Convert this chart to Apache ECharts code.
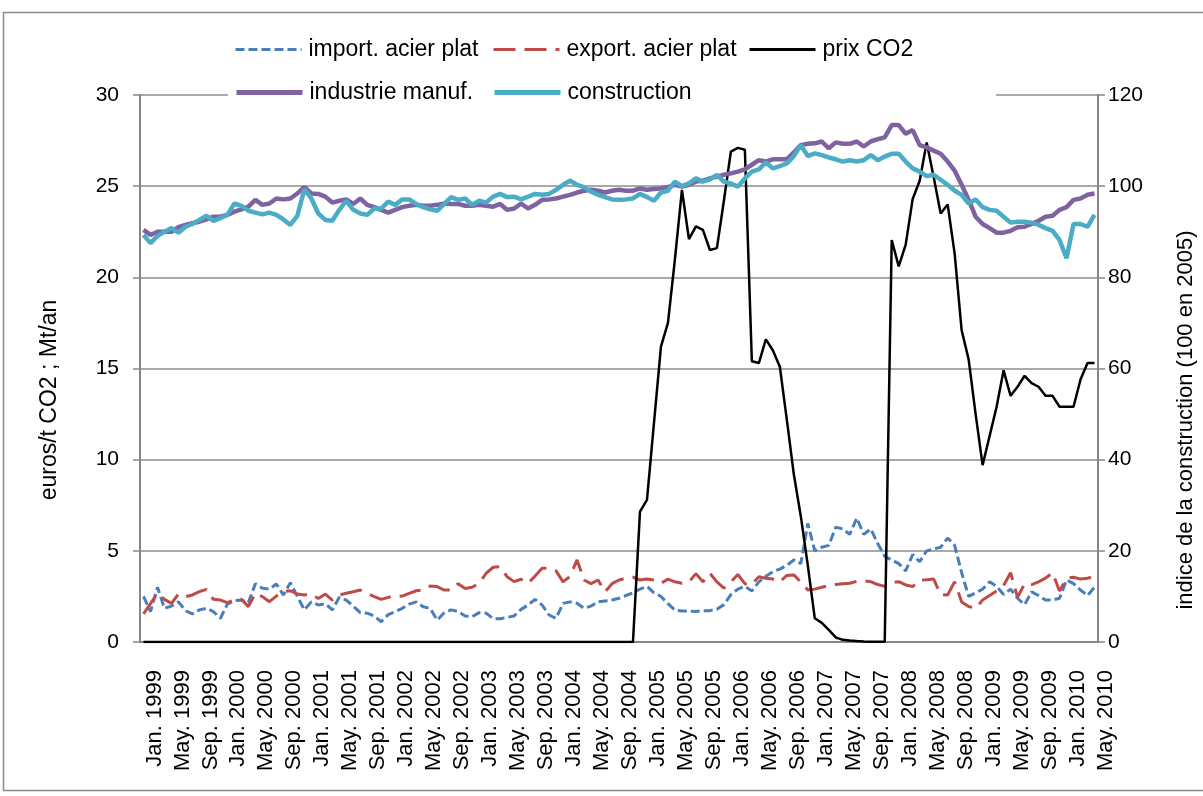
<!DOCTYPE html>
<html>
<head>
<meta charset="utf-8">
<script src="https://cdn.jsdelivr.net/npm/echarts@6/dist/echarts.min.js"></script>
<style>
html, body { margin: 0; padding: 0; background: #fff; }
#chart { width: 1203px; height: 796px; }
</style>
</head>
<body>
<div id="chart"></div>
<script>
var month_names = ['Jan.', 'Feb.', 'Mar.', 'Apr.', 'May.', 'Jun.', 'Jul.', 'Aug.', 'Sep.', 'Oct.', 'Nov.', 'Dec.'];
var years = [1999, 2000, 2001, 2002, 2003, 2004, 2005, 2006, 2007, 2008, 2009, 2010];
var last_month_2010 = 5;

// axe gauche : euros/t CO2 ; Mt/an
var import_acier_plat = [
	2.5, 1.67, 3.0, 1.85, 1.97, 2.2, 1.72, 1.54, 1.76, 1.85, 1.67, 1.3,
	2.08, 2.27, 2.3, 2.16, 3.2, 2.95, 2.9, 3.18, 2.58, 3.25, 2.5, 1.76,
	2.2, 2.03, 2.1, 1.76, 2.45, 2.3, 1.97, 1.61, 1.58, 1.43, 1.11, 1.5,
	1.67, 1.85, 2.08, 2.2, 1.93, 1.85, 1.2, 1.6, 1.76, 1.67, 1.43, 1.39,
	1.61, 1.58, 1.28, 1.28, 1.35, 1.43, 1.79, 2.03, 2.34, 2.03, 1.48, 1.3,
	2.12, 2.2, 2.12, 1.85, 1.97, 2.2, 2.25, 2.3, 2.4, 2.55, 2.7, 2.9,
	3.05, 2.7, 2.5, 2.1, 1.75, 1.7, 1.7, 1.67, 1.72, 1.72, 1.8, 2.05,
	2.6, 2.9, 3.05, 2.8, 3.3, 3.6, 3.85, 4.0, 4.2, 4.5, 4.3, 6.5,
	5.0, 5.2, 5.3, 6.3, 6.2, 5.9, 6.8, 5.9, 6.2, 5.4, 4.7, 4.5,
	4.3, 3.9, 4.8, 4.4, 5.0, 5.1, 5.2, 5.7, 5.3, 3.8, 2.5, 2.7,
	2.9, 3.3, 3.05, 2.6, 2.9, 2.4, 2.05, 2.75, 2.55, 2.3, 2.3, 2.4,
	3.4, 3.2, 2.85, 2.55, 3.0
];
var export_acier_plat = [
	1.54, 2.1, 2.67, 2.34, 2.12, 2.63, 2.49, 2.58, 2.76, 2.89, 2.34, 2.3,
	2.16, 2.3, 2.34, 1.94, 2.67, 2.49, 2.21, 2.52, 2.76, 2.81, 2.63, 2.58,
	2.63, 2.39, 2.63, 2.3, 2.58, 2.67, 2.76, 2.85, 2.67, 2.49, 2.34, 2.45,
	2.49, 2.52, 2.67, 2.81, 2.85, 3.07, 3.04, 2.85, 2.85, 3.2, 2.94, 3.0,
	3.22, 3.77, 4.1, 4.13, 3.58, 3.31, 3.44, 3.22, 3.62, 4.04, 4.04, 3.9,
	3.3, 3.6, 4.5, 3.4, 3.2, 3.4, 2.75, 3.2, 3.4, 3.5, 3.55, 3.4,
	3.45, 3.4, 3.22, 3.45, 3.3, 3.22, 3.3, 3.75, 3.3, 3.77, 3.3, 2.95,
	3.3, 3.7, 3.2, 3.15, 3.58, 3.5, 3.45, 3.3, 3.65, 3.68, 3.3, 2.85,
	2.9, 3.0, 3.1, 3.15, 3.2, 3.22, 3.33, 3.36, 3.31, 3.15, 3.05, 3.25,
	3.31, 3.13, 3.04, 3.4, 3.42, 3.45, 2.6, 2.58, 3.31, 2.2, 1.95, 1.85,
	2.3, 2.55, 2.8, 3.1, 3.8, 2.45, 3.2, 3.15, 3.3, 3.5, 3.8, 2.8,
	3.5, 3.55, 3.45, 3.5, 3.6
];
var prix_co2 = [
	0, 0, 0, 0, 0, 0, 0, 0, 0, 0, 0, 0,
	0, 0, 0, 0, 0, 0, 0, 0, 0, 0, 0, 0,
	0, 0, 0, 0, 0, 0, 0, 0, 0, 0, 0, 0,
	0, 0, 0, 0, 0, 0, 0, 0, 0, 0, 0, 0,
	0, 0, 0, 0, 0, 0, 0, 0, 0, 0, 0, 0,
	0, 0, 0, 0, 0, 0, 0, 0, 0, 0, 0, 7.15,
	7.8, 12.0, 16.2, 17.5, 21.0, 24.8, 22.1, 22.8, 22.6, 21.5, 21.6, 24.2,
	26.9, 27.1, 27.0, 15.4, 15.3, 16.6, 16.0, 15.1, 12.2, 9.2, 6.9, 4.2,
	1.3, 1.05, 0.66, 0.25, 0.12, 0.08, 0.05, 0.03, 0.02, 0.02, 0.02, 22.05,
	20.6, 21.8, 24.3, 25.3, 27.4, 25.5, 23.5, 24.0, 21.3, 17.1, 15.5, 12.5,
	9.7, 11.3, 12.9, 14.9, 13.5, 14.0, 14.6, 14.2, 14.0, 13.5, 13.5, 12.9,
	12.9, 12.9, 14.4, 15.3, 15.3
];
// axe droit : indice (100 en 2005)
var industrie_manuf = [
	90.4, 89.3, 90.0, 90.0, 90.0, 91.0, 91.5, 91.9, 92.2, 92.7, 93.3, 93.3,
	93.7, 94.4, 94.9, 95.5, 97.0, 95.9, 96.2, 97.3, 97.1, 97.3, 98.4, 99.8,
	98.4, 98.3, 97.7, 96.4, 96.8, 97.1, 96.1, 97.3, 95.9, 95.4, 94.8, 94.2,
	94.8, 95.4, 95.7, 95.9, 95.7, 95.7, 95.9, 96.2, 96.1, 96.1, 95.7, 95.7,
	95.9, 95.7, 95.5, 96.1, 94.8, 95.1, 96.2, 95.1, 95.9, 97.0, 97.1, 97.3,
	97.7, 98.1, 98.6, 99.0, 99.2, 99.0, 98.6, 99.0, 99.2, 99.0, 99.0, 99.5,
	99.2, 99.4, 99.5, 99.8, 100.3, 99.9, 100.3, 101.0, 101.2, 101.7, 102.1, 102.5,
	102.8, 103.2, 103.7, 104.7, 105.7, 105.4, 105.9, 105.9, 105.9, 107.4, 109.0, 109.3,
	109.4, 109.8, 108.3, 109.6, 109.3, 109.3, 109.8, 108.7, 109.8, 110.3, 110.7, 113.4,
	113.4, 111.5, 112.3, 109.0, 108.5, 107.8, 107.1, 105.4, 103.4, 100.3, 97.0, 93.3,
	91.7, 90.8, 89.8, 89.8, 90.2, 91.0, 91.1, 91.7, 92.4, 93.3, 93.5, 94.8,
	95.4, 97.0, 97.3, 98.1, 98.4
];
var construction = [
	89.3, 87.5, 89.1, 90.0, 90.8, 89.8, 91.1, 91.7, 92.6, 93.5, 92.4, 93.0,
	93.7, 96.2, 95.7, 94.6, 94.2, 93.8, 94.2, 93.7, 92.7, 91.5, 93.5, 99.3,
	97.3, 94.0, 92.6, 92.4, 94.8, 96.8, 94.8, 94.0, 93.7, 95.1, 95.1, 96.6,
	95.9, 97.1, 97.1, 96.1, 95.4, 94.9, 94.6, 96.1, 97.6, 97.0, 97.3, 95.9,
	96.8, 96.4, 97.7, 98.3, 97.6, 97.7, 97.1, 97.7, 98.3, 98.1, 98.3, 99.2,
	100.3, 101.2, 100.3, 99.8, 98.8, 98.1, 97.6, 97.1, 97.0, 97.1, 97.3, 98.3,
	97.6, 96.8, 98.6, 99.0, 101.0, 100.0, 100.6, 101.7, 101.0, 101.5, 102.5, 101.0,
	100.6, 99.9, 101.7, 103.2, 103.7, 105.2, 103.9, 104.4, 105.0, 106.6, 109.0, 106.6,
	107.2, 106.8, 106.3, 105.9, 105.4, 105.7, 105.4, 105.7, 106.8, 105.7, 106.5, 107.1,
	107.1, 105.4, 103.9, 103.2, 102.2, 102.5, 101.4, 100.3, 99.0, 98.1, 96.2, 97.1,
	95.4, 94.8, 94.6, 93.3, 92.0, 92.2, 92.2, 92.0, 91.5, 90.8, 90.2, 88.2,
	84.2, 91.7, 91.7, 91.1, 93.7
];

var months = [];
for (var y = 0; y < years.length; y++) {
	for (var m = 0; m < 12; m++) {
		if (years[y] == 2010 && m >= last_month_2010) break;
		months.push(month_names[m] + ' ' + years[y]);
	}
}

var font = "'Liberation Sans', Arial, sans-serif";
var grey_axis = '#868686';

function make_legend(name, left, top, width){
	return {
		data: [name], left: left, top: top, padding: 0, z: 100,
		itemWidth: 66, itemHeight: 14, itemGap: 0,
		itemStyle: { opacity: 0 },
		lineStyle: { width: width },
		textStyle: { fontSize: 23, color: '#000', fontFamily: font, padding: [0, 0, 0, 2] }
	};
}

function chart_acier_co2(){
	var acier_co2 = echarts.init(document.getElementById("chart"));
	var option = {
		animation: false,
		textStyle: { fontFamily: font },
		grid: { left: 140, right: 105, top: 95, bottom: 154, containLabel: false },
		graphic: [
			{
				type: 'rect', z: 0,
				shape: { x: 3.5, y: 12.5, width: 1210, height: 778 },
				style: { fill: 'none', stroke: '#8a8a8a', lineWidth: 1.5 }
			},
			{
				type: 'rect', z: 50,
				shape: { x: 228, y: 28, width: 768, height: 78 },
				style: { fill: '#ffffff' }
			},
			{
				type: 'text', z: 60, x: 50, y: 400, rotation: Math.PI / 2,
				style: { text: 'euros/t CO2 ; Mt/an', font: '23px ' + font, fill: '#000', align: 'center', verticalAlign: 'middle' }
			},
			{
				type: 'text', z: 60, x: 1186, y: 420, rotation: Math.PI / 2,
				style: { text: 'indice de la construction (100 en 2005)', font: '22px ' + font, fill: '#000', align: 'center', verticalAlign: 'middle' }
			}
		],
		legend: [
			make_legend('import. acier plat', 234, 38, 3),
			make_legend('export. acier plat', 492, 38, 3),
			make_legend('prix CO2', 748, 38, 3),
			make_legend('industrie manuf.', 234, 81, 5),
			make_legend('construction', 492, 81, 5)
		],
		xAxis: [
			{
				type: 'category',
				boundaryGap: true,
				data: months,
				axisLine: { lineStyle: { color: grey_axis, width: 2 } },
				axisTick: { interval: 0, length: 5, lineStyle: { color: '#9a9a9a', width: 1 } },
				axisLabel: { interval: 3, rotate: 90, margin: 28, fontSize: 22, color: '#000', verticalAlign: 'top', fontFamily: font },
				splitLine: { show: false }
			}
		],
		yAxis: [
			{
				type: 'value',
				min: 0, max: 30, interval: 5,
				axisLine: { show: true, lineStyle: { color: grey_axis, width: 2 } },
				axisTick: { show: true, length: 7, lineStyle: { color: grey_axis, width: 1.5 } },
				axisLabel: { margin: 21, fontSize: 21, color: '#000', fontFamily: font },
				splitLine: { show: true, lineStyle: { color: '#8c8c8c', width: 1.5 } }
			},
			{
				type: 'value',
				min: 0, max: 120, interval: 20,
				position: 'right',
				axisLine: { show: true, lineStyle: { color: grey_axis, width: 2 } },
				axisTick: { show: true, length: 7, lineStyle: { color: grey_axis, width: 1.5 } },
				axisLabel: { margin: 10, fontSize: 21, color: '#000', fontFamily: font },
				splitLine: { show: false }
			}
		],
		series: [
			{
				name: 'import. acier plat', type: 'line', yAxisIndex: 0,
				symbol: 'none', data: import_acier_plat,
				itemStyle: { color: '#4a7ebb' },
				lineStyle: { color: '#4a7ebb', width: 3, type: [9, 4] }
			},
			{
				name: 'export. acier plat', type: 'line', yAxisIndex: 0,
				symbol: 'none', data: export_acier_plat,
				itemStyle: { color: '#be4b48' },
				lineStyle: { color: '#be4b48', width: 3, type: [22, 9] }
			},
			{
				name: 'prix CO2', type: 'line', yAxisIndex: 0,
				symbol: 'none', data: prix_co2,
				itemStyle: { color: '#000' },
				lineStyle: { color: '#000', width: 2.5 }
			},
			{
				name: 'industrie manuf.', type: 'line', yAxisIndex: 1,
				symbol: 'none', data: industrie_manuf,
				itemStyle: { color: '#7f63a1' },
				lineStyle: { color: '#7f63a1', width: 4.5 }
			},
			{
				name: 'construction', type: 'line', yAxisIndex: 1,
				symbol: 'none', data: construction,
				itemStyle: { color: '#4bacc6' },
				lineStyle: { color: '#4bacc6', width: 4.5 }
			}
		]
	};
	acier_co2.setOption(option);
	window.addEventListener("resize",function(){
		acier_co2.resize();
	});
}

chart_acier_co2();
</script>
</body>
</html>
